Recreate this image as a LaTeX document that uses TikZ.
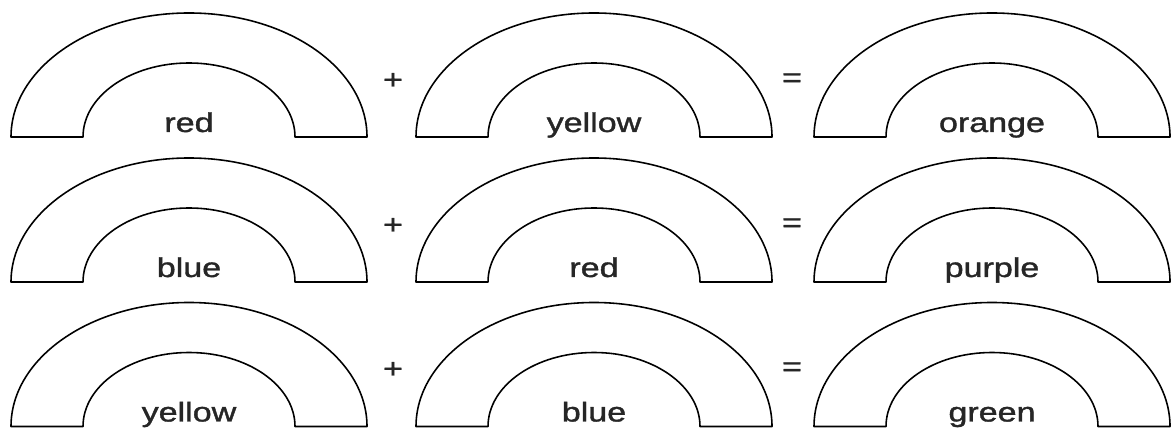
\documentclass[tikz,border=0pt]{standalone}
\usepackage{fontspec}
\setmainfont{Liberation Sans}
\newfontfamily\heavysans{Liberation Sans}[FakeBold=1.2]
\usetikzlibrary{positioning}

\tikzset{
  archline/.style={draw, line width=0.9pt, line join=round},
  arch/.pic={
    \path[archline] (-178,0) arc[start angle=180, end angle=0, x radius=178, y radius=124]
      -- (106,0) arc[start angle=0, end angle=180, x radius=106, y radius=74] -- cycle;
  },
}

\begin{document}
\begin{tikzpicture}[x=0.02cm, y=0.02cm,
  every node/.style={font=\heavysans\fontsize{15.5}{17}\selectfont, text=black!85, inner sep=0pt},
  word/.style={anchor=base, xscale=1.25},
  sign/.style={anchor=center, xscale=1.25}]
  \useasboundingbox (0,0) rectangle (1172,428);

  % row 1
  \pic at (189,291) {arch};
  \pic at (594,291) {arch};
  \pic at (992,291) {arch};
  \node[word] (red1) at (189,296) {red};
  \node[word] (yellow1) at (594,296) {yellow};
  \node[word] (orange1) at (992,296) {orange};
  \node[sign] (plus1) at (393,347) {+};
  \node[sign] (eq1) at (792,348) {=};

  % row 2
  \pic at (189,146) {arch};
  \pic at (594,146) {arch};
  \pic at (992,146) {arch};
  \node[word] (blue2) at (189,151) {blue};
  \node[word] (red2) at (594,151) {red};
  \node[word] (purple2) at (992,151) {purple};
  \node[sign] (plus2) at (393,202) {+};
  \node[sign] (eq2) at (792,203) {=};

  % row 3
  \pic at (189,1.5) {arch};
  \pic at (594,1.5) {arch};
  \pic at (992,1.5) {arch};
  \node[word] (yellow3) at (189,6.5) {yellow};
  \node[word] (blue3) at (594,6.5) {blue};
  \node[word] (green3) at (992,6.5) {green};
  \node[sign] (plus3) at (393,58) {+};
  \node[sign] (eq3) at (792,59) {=};
\end{tikzpicture}
\end{document}
